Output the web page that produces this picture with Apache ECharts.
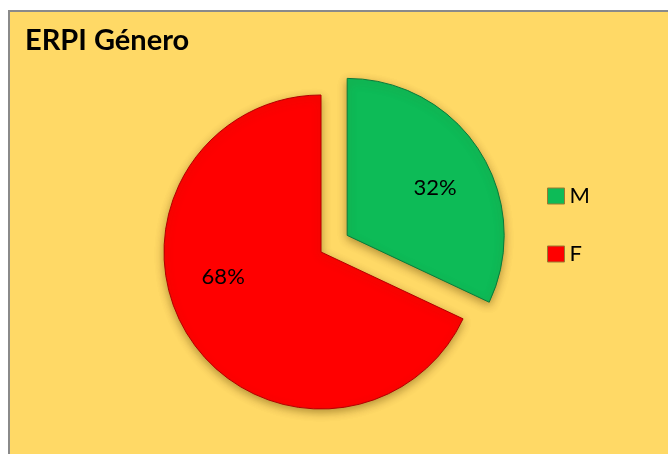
<!DOCTYPE html>
<html>
<head>
<meta charset="utf-8">
<script src="https://cdn.jsdelivr.net/npm/echarts@6/dist/echarts.min.js"></script>
<style>
  html, body { margin: 0; padding: 0; background: #ffffff; }
  #chart { width: 668px; height: 454px; }
</style>
</head>
<body>
<div id="chart"></div>
<script>
// Gender split of ERPI respondents
const chartTitle = 'ERPI Género';
const categories = ['M', 'F'];
const shares = [32, 68];
const sliceColors = ['#0DBB57', '#FF0000'];
const edgeColors = ['#0A7A3A', '#B30000'];
// small nudges that move each percentage label off the default half-radius spot
const labelPadding = [[0, 0, 8, 38], [0, 58, 0, 0]];
// empty line under a label lifts it by half its height
const labelLift = [0, 38];

const chart = echarts.init(document.getElementById('chart'), null, { renderer: 'canvas' });

const pieData = categories.map((name, i) => ({
  name: name,
  value: shares[i],
  selected: name === 'M',
  itemStyle: { color: sliceColors[i], borderColor: edgeColors[i] },
  label: {
    padding: labelPadding[i],
    formatter: labelLift[i] ? '{c}%\n{lift' + i + '|}' : '{c}%',
    rich: { ['lift' + i]: { height: labelLift[i] } }
  }
}));

chart.setOption({
  animation: false,
  backgroundColor: '#ffffff',
  graphic: [{
    type: 'rect',
    z: -10,
    silent: true,
    shape: { x: 9, y: 11, width: 700, height: 480 },
    style: { fill: '#FFD966', stroke: '#8A8A8A', lineWidth: 2 }
  }],
  title: {
    text: chartTitle,
    left: 20,
    top: 21,
    textStyle: { fontFamily: 'Lato', fontWeight: 'bold', fontSize: 29, color: '#000000' }
  },
  legend: {
    orient: 'vertical',
    left: 542,
    top: 180,
    itemWidth: 17,
    itemHeight: 16,
    itemGap: 36,
    icon: 'rect',
    selectedMode: false,
    data: categories,
    textStyle: { fontFamily: 'Lato', fontSize: 22, color: '#000000' },
    itemStyle: { borderColor: '#9A7A30', borderWidth: 1 }
  },
  series: [{
    type: 'pie',
    center: [321, 252],
    radius: 157,
    startAngle: 90,
    clockwise: true,
    selectedMode: 'single',
    selectedOffset: 31,
    emphasis: { disabled: true },
    itemStyle: {
      borderWidth: 1,
      shadowColor: 'rgba(90, 60, 0, 0.45)',
      shadowBlur: 8,
      shadowOffsetY: 3
    },
    label: {
      show: true,
      position: 'inner',
      fontFamily: 'Lato',
      fontSize: 22,
      color: '#000000'
    },
    labelLine: { show: false },
    data: pieData
  }]
});
</script>
</body>
</html>
